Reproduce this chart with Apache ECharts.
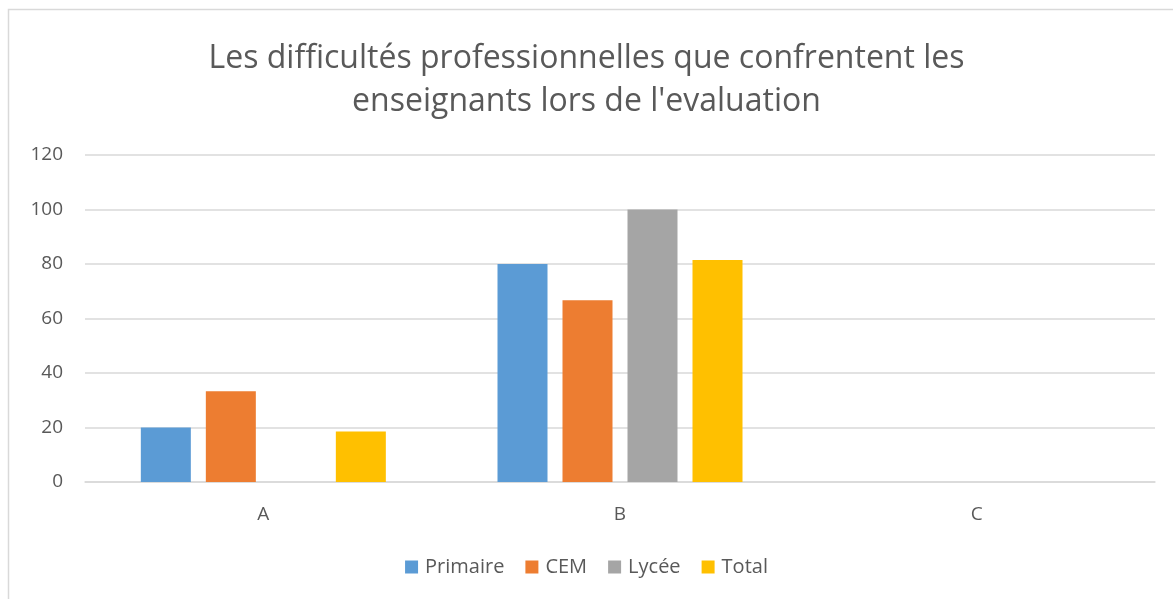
<!DOCTYPE html>
<html>
<head>
<meta charset="utf-8">
<title>Les difficultés professionnelles</title>
<script src="https://cdn.jsdelivr.net/npm/echarts@6/dist/echarts.min.js"></script>
<style>
  html, body { margin: 0; padding: 0; background: #fff; }
  #main { width: 1173px; height: 599px; }
</style>
</head>
<body>
<div id="main"></div>
<script>
// données du graphique
var categories = ['A', 'B', 'C'];
var primaire = [20, 80, 0];
var cem = [33.33, 66.67, 0];
var lycee = [0, 100, 0];
var total = [18.5, 81.5, 0];
var yTicks = [0, 20, 40, 60, 80, 100, 120];

var titleText = "Les difficultés professionnelles que confrentent les\nenseignants lors de l'evaluation";
var fontFam = '"Open Sans", "Liberation Sans", sans-serif';
var txtColor = '#595959';

function barSerie(name, data, color) {
  return {
    name: name,
    type: 'bar',
    data: data,
    barWidth: 50,
    barGap: '30%',
    itemStyle: { color: color },
    emphasis: { disabled: true }
  };
}

var myChart = echarts.init(document.getElementById('main'));
myChart.setOption({
  animation: false,
  textStyle: { fontFamily: fontFam },
  graphic: [{
    type: 'rect',
    shape: { x: 8.5, y: 9.5, width: 1300, height: 800 },
    style: { fill: 'none', stroke: '#d9d9d9', lineWidth: 1.5 },
    silent: true
  }],
  title: {
    text: titleText,
    left: 'center',
    top: 32,
    textStyle: {
      fontFamily: fontFam,
      fontSize: 32,
      fontWeight: 'normal',
      color: txtColor,
      lineHeight: 43
    }
  },
  legend: {
    bottom: 17,
    left: 'center',
    itemWidth: 13,
    itemHeight: 13,
    itemGap: 21,
    icon: 'rect',
    textStyle: { fontSize: 20, color: txtColor, fontFamily: fontFam, padding: [0, 0, 0, 2] },
    data: ['Primaire', 'CEM', 'Lycée', 'Total']
  },
  grid: { left: 85, right: 18, top: 155, bottom: 117 },
  xAxis: {
    type: 'category',
    data: categories,
    axisLine: { lineStyle: { color: '#d9d9d9', width: 1.5 } },
    axisTick: { show: false },
    axisLabel: { fontSize: 19, color: txtColor, margin: 23 }
  },
  yAxis: {
    type: 'value',
    min: yTicks[0],
    max: yTicks[yTicks.length - 1],
    interval: 20,
    axisLine: { show: false },
    axisTick: { show: false },
    axisLabel: { fontSize: 19, color: txtColor, margin: 22 },
    splitLine: { lineStyle: { color: '#d9d9d9', width: 1.5 } }
  },
  series: [
    barSerie('Primaire', primaire, '#5b9bd5'),
    barSerie('CEM', cem, '#ed7d31'),
    barSerie('Lycée', lycee, '#a5a5a5'),
    barSerie('Total', total, '#ffc000')
  ]
});
</script>
</body>
</html>
